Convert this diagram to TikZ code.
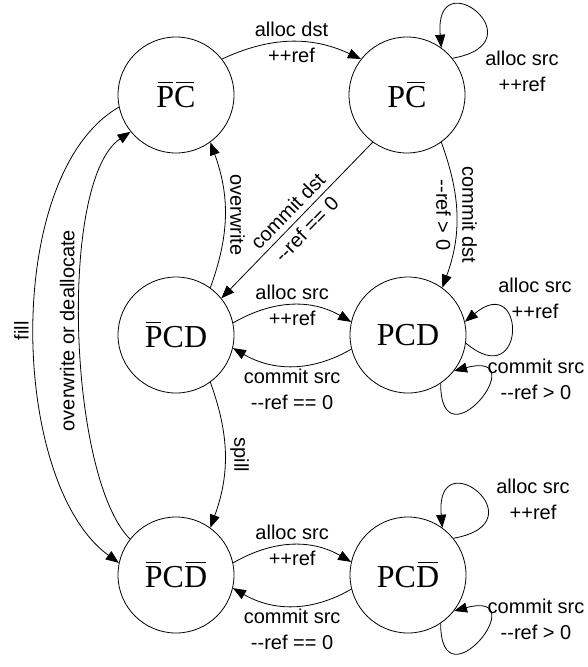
\documentclass[tikz,border=0pt]{standalone}
\usepackage{fontspec}
\setmainfont{Liberation Serif}
\setsansfont{Liberation Sans}
\usetikzlibrary{arrows.meta}

% bar over one letter of a state name
\newcommand\nbar[1]{{\setbox0\hbox{#1}\vbox{\offinterlineskip\hbox to\wd0{\kern1.5bp\leaders\hrule height 1bp depth 0bp\hfill\kern1.5bp}\kern4bp\box0}}}

\begin{document}
\begin{tikzpicture}[x=1bp,y=-1bp,
  st/.style={circle,draw,line width=0.8bp,minimum size=116bp,inner sep=0pt,font=\rmfamily\fontsize{32bp}{38bp}\selectfont},
  trans/.style={line width=0.8bp,-{Triangle[length=13bp,width=10bp]}},
  lbl/.style={font=\sffamily\fontsize{20bp}{26bp}\selectfont,align=center,inner sep=3bp},
  side/.style={lbl,anchor=south,inner sep=5bp}]
  \useasboundingbox (0,0) rectangle (588,667);

  \node[st] (nPnC) at (176,95) {\nbar{P}\nbar{C}};
  \node[st] (PnC) at (407,95) {P\nbar{C}};
  \node[st] (nPCD) at (176,335) {\nbar{P}CD};
  \node[st] (PCD) at (408,335) {PCD};
  \node[st] (nPCnD) at (176,575) {\nbar{P}C\nbar{D}};
  \node[st] (PCnD) at (408,575) {PC\nbar{D}};

  % top row
  \draw[trans] (nPnC.38) to[out=25,in=155] node[lbl] (l1) {alloc dst\\++ref} (PnC.142);
  \draw[trans] (PnC.39) to[out=10,in=95,distance=90bp] (PnC.54);
  \node[lbl] (l2) at (522,71) {alloc src\\++ref};
  \draw[trans] (PnC.234) -- node[lbl,sloped] (l3) {commit dst\\{-}{-}ref == 0} (nPCD.39);
  \draw[trans] (PnC.-54) to[out=-70,in=70] node[lbl,rotate=-90] (l4) {commit dst\\{-}{-}ref > 0} (PCD.54);
  \draw[trans] (nPCD.54) to[out=70,in=-70] node[side,rotate=-90] (l5) {overwrite} (nPnC.-54);

  % middle row
  \draw[trans] (nPCD.12) to[out=30,in=150] node[lbl] (l6) {alloc src\\++ref} (PCD.167);
  \draw[trans] (PCD.-166) to[out=-150,in=-30] node[lbl,below] (l7) {commit src\\{-}{-}ref == 0} (nPCD.-13);
  \draw[trans] (PCD.-8) to[out=-40,in=40,distance=80bp] (PCD.13);
  \node[lbl] (l8) at (535,298) {alloc src\\++ref};
  \draw[trans] (PCD.-56) to[out=-90,in=15,distance=85bp] (PCD.-38);
  \node[lbl] (l9) at (536,379) {commit src\\{-}{-}ref > 0};
  \draw[trans] (nPCD.-54) to[out=-70,in=70] node[side,rotate=-90] (l10) {spill} (nPCnD.54);

  % left side
  \draw[trans] (nPnC.192) to[out=210,in=144,looseness=0.76] node[side,rotate=90] (l11) {fill} (nPCnD.168);
  \draw[trans] (nPCnD.142) to[out=135,in=214,looseness=0.55] node[side,rotate=90] (l12) {overwrite or deallocate} (nPnC.219);

  % bottom row
  \draw[trans] (nPCnD.12) to[out=30,in=150] node[lbl] (l13) {alloc src\\++ref} (PCnD.167);
  \draw[trans] (PCnD.-166) to[out=-150,in=-30] node[lbl,below] (l14) {commit src\\{-}{-}ref == 0} (nPCnD.-13);
  \draw[trans] (PCnD.39) to[out=10,in=95,distance=90bp] (PCnD.54);
  \node[lbl] (l15) at (533,499) {alloc src\\++ref};
  \draw[trans] (PCnD.-56) to[out=-90,in=15,distance=85bp] (PCnD.-38);
  \node[lbl] (l16) at (536,619) {commit src\\{-}{-}ref > 0};
\end{tikzpicture}
\end{document}
